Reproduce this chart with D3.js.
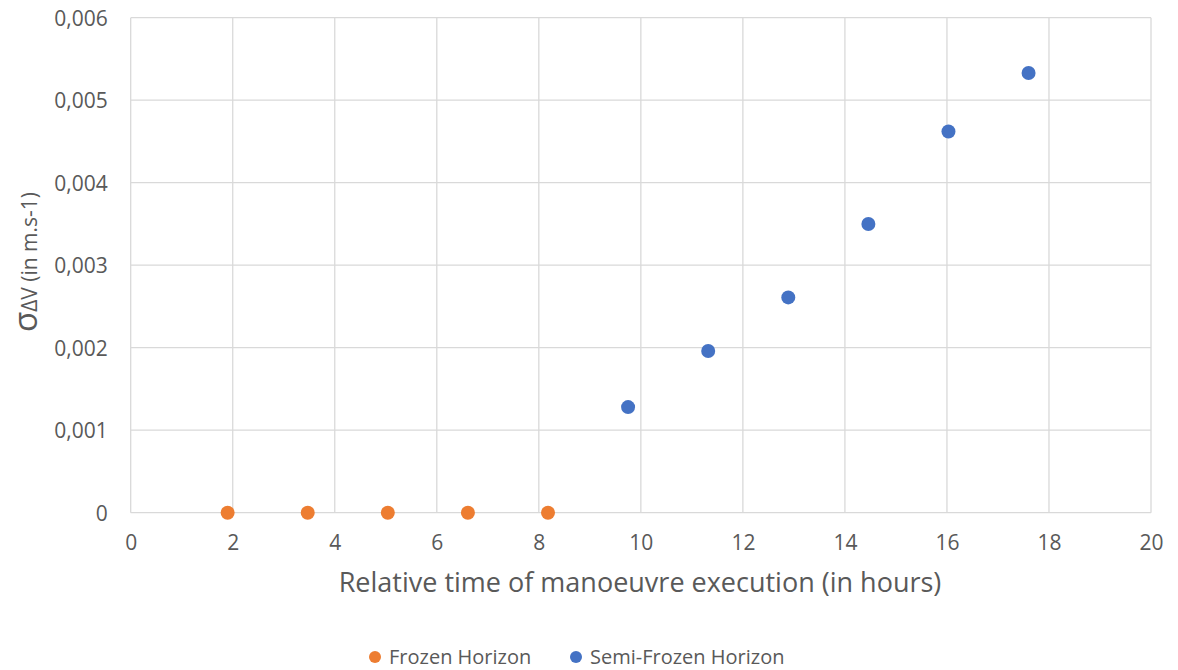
<!DOCTYPE html>
<html>
<head>
<meta charset="utf-8">
<script src="https://cdn.jsdelivr.net/npm/d3@7"></script>
<style>
  html, body { margin: 0; padding: 0; background: #fff; }
  svg { display: block; font-family: "Open Sans", "Noto Sans", sans-serif; }
</style>
</head>
<body>
<svg id="chart" width="1178" height="670"></svg>
<script>
// Series: relative manoeuvre time (hours) vs. sigma of delta-V (m/s)
const frozenTime = [1.9, 3.47, 5.04, 6.61, 8.18];
const frozenSigma = [0, 0, 0, 0, 0];
const semiTime = [9.75, 11.32, 12.89, 14.46, 16.03, 17.6];
const semiSigma = [0.00128, 0.00196, 0.00261, 0.0035, 0.00462, 0.00533];
const xTicks = [0, 2, 4, 6, 8, 10, 12, 14, 16, 18, 20];
const yTicks = [0, 0.001, 0.002, 0.003, 0.004, 0.005, 0.006];
const seriesNames = ["Frozen Horizon", "Semi-Frozen Horizon"];
const seriesColors = ["#ED7D31", "#4472C4"];

const svg = d3.select("#chart");
const margin = { left: 130.7, right: 1151, top: 17.7, bottom: 512.7 };

const x = d3.scaleLinear().domain([0, 20]).range([margin.left, margin.right]);
const y = d3.scaleLinear().domain([0, 0.006]).range([margin.bottom, margin.top]);

const fmt = v => v === 0 ? "0" : d3.format(".3f")(v).replace(".", ",");
const textColor = "#595959";

// Gridlines
const grid = svg.append("g").attr("stroke", "#d9d9d9").attr("stroke-width", 1.3);
grid.selectAll("line.v").data(xTicks).join("line")
  .attr("x1", d => x(d)).attr("x2", d => x(d))
  .attr("y1", y(0)).attr("y2", y(0.006));
grid.selectAll("line.h").data(yTicks).join("line")
  .attr("x1", x(0)).attr("x2", x(20))
  .attr("y1", d => y(d)).attr("y2", d => y(d));

// Axes (labels only; lines come from the grid)
const xAxis = svg.append("g")
  .attr("transform", `translate(0,${y(0)})`)
  .call(d3.axisBottom(x).tickValues(xTicks).tickSize(0).tickPadding(22).tickFormat(d3.format("d")));
const yAxis = svg.append("g")
  .attr("transform", `translate(${x(0)},0)`)
  .call(d3.axisLeft(y).tickValues(yTicks).tickSize(0).tickPadding(23).tickFormat(fmt));
[xAxis, yAxis].forEach(a => {
  a.select(".domain").remove();
  a.selectAll("text").attr("fill", textColor).style("font-size", "21px")
    .style("font-family", "'Open Sans', 'Noto Sans', sans-serif");
});
yAxis.selectAll("text").attr("dy", "0.35em");

// Points
const pts = svg.append("g");
pts.selectAll("circle.f").data(frozenTime.map((t, i) => [t, frozenSigma[i]])).join("circle")
  .attr("cx", d => x(d[0])).attr("cy", d => y(d[1])).attr("r", 7).attr("fill", seriesColors[0]);
pts.selectAll("circle.s").data(semiTime.map((t, i) => [t, semiSigma[i]])).join("circle")
  .attr("cx", d => x(d[0])).attr("cy", d => y(d[1])).attr("r", 7).attr("fill", seriesColors[1]);

// X axis title
svg.append("text")
  .attr("x", 640).attr("y", 592)
  .attr("text-anchor", "middle").attr("fill", textColor)
  .style("font-size", "27px")
  .text("Relative time of manoeuvre execution (in hours)");

// Y axis title
const yt = svg.append("text")
  .attr("transform", "translate(37,262) rotate(-90)")
  .attr("text-anchor", "middle").attr("fill", textColor);
yt.append("tspan").style("font-size", "33px").text("σ");
yt.append("tspan").style("font-size", "21px").text("ΔV (in m.s-1)");

// Legend
const legend = svg.append("g").attr("transform", "translate(0,657)");
const legendX = [375, 576];
seriesNames.forEach((name, i) => {
  legend.append("circle").attr("cx", legendX[i]).attr("cy", 0).attr("r", 6).attr("fill", seriesColors[i]);
  legend.append("text").attr("x", legendX[i] + 14).attr("y", 0).attr("dy", "0.35em")
    .attr("fill", textColor).style("font-size", "20px").text(name);
});
</script>
</body>
</html>
